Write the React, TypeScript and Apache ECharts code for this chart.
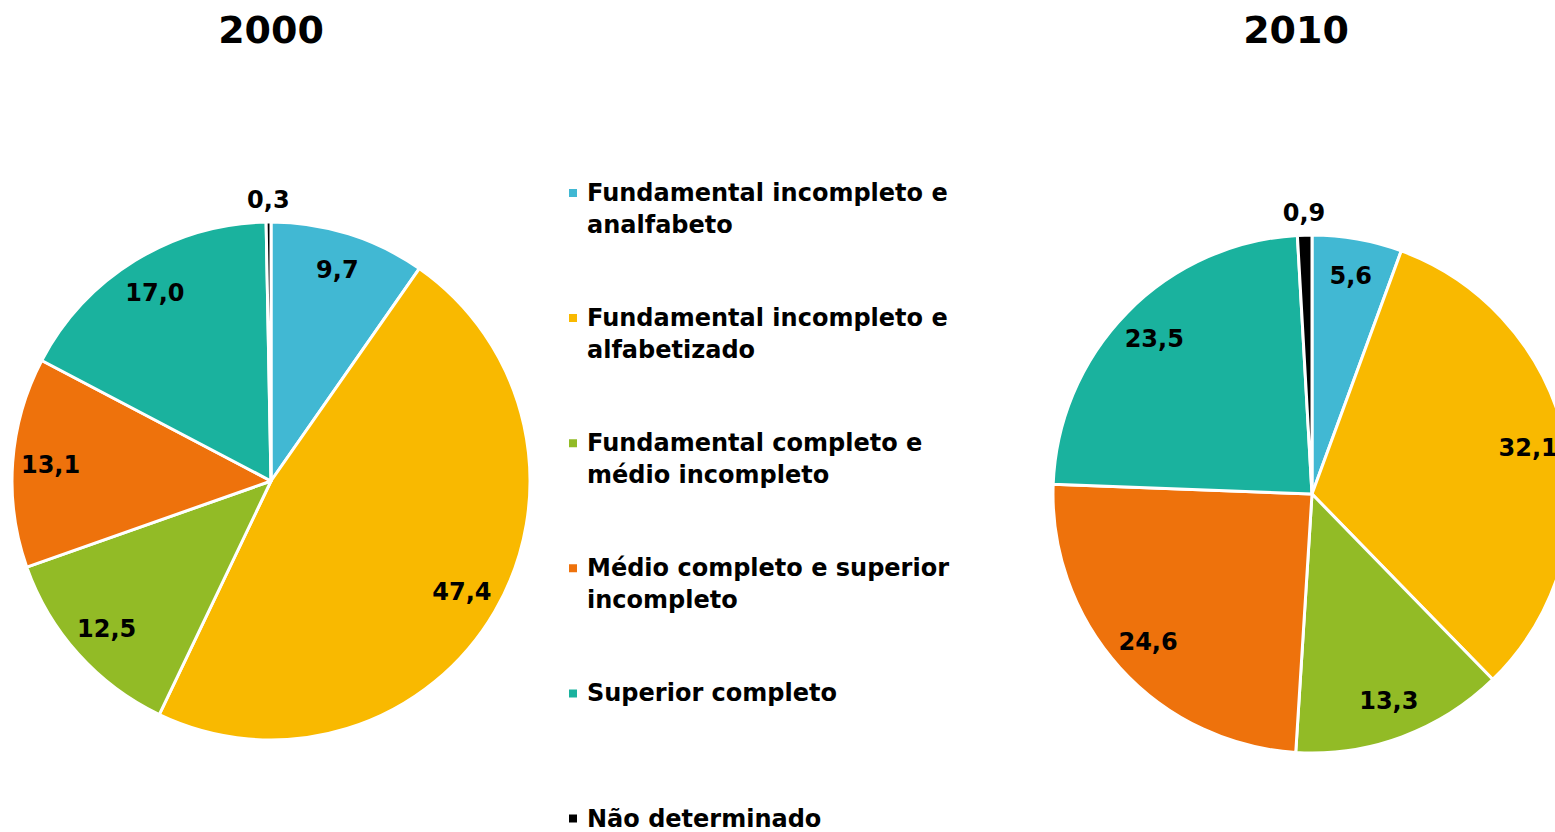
import React, { useEffect, useRef } from "react";
import * as echarts from "echarts";

const categories = [
  "Fundamental incompleto e analfabeto",
  "Fundamental incompleto e alfabetizado",
  "Fundamental completo e médio incompleto",
  "Médio completo e superior incompleto",
  "Superior completo",
  "Não determinado",
];
const legendLines = [
  "Fundamental incompleto e\nanalfabeto",
  "Fundamental incompleto e\nalfabetizado",
  "Fundamental completo e\nmédio incompleto",
  "Médio completo e superior\nincompleto",
  "Superior completo\n ",
  "Não determinado\n ",
];
const colors = ["#41B8D3", "#F9B900", "#92BB26", "#EE720C", "#1AB29E", "#000000"];
const values2000 = [9.7, 47.4, 12.5, 13.1, 17.0, 0.3];
const values2010 = [5.6, 32.1, 13.3, 24.6, 23.5, 0.9];
const years = ["2000", "2010"];

const FONT = "DejaVu Sans, Verdana, sans-serif";
const fmt = (v: number) => v.toFixed(1).replace(".", ",");

export default function App() {
  const ref = useRef<HTMLDivElement>(null);
  useEffect(() => {
    if (!ref.current) return;
    const chart = echarts.init(ref.current, undefined, { renderer: "svg" });
    const pies = [
      { values: values2000, center: [271, 481] },
      { values: values2010, center: [1312, 494] },
    ];
    const labelStyle = {
      color: "#000",
      fontFamily: FONT,
      fontWeight: "bold",
      fontSize: 24,
    };
    const series: any[] = [];
    pies.forEach((p, pi) => {
      series.push({
        type: "pie",
        name: years[pi],
        center: p.center,
        radius: 259,
        startAngle: 90,
        clockwise: true,
        silent: true,
        label: { show: false },
        labelLine: { show: false },
        itemStyle: { borderColor: "#fff", borderWidth: 3 },
        data: categories.map((c, i) => ({
          name: c,
          value: p.values[i],
          itemStyle: { color: colors[i] },
        })),
      });
    });
    pies.forEach((p, pi) => {
      series.push({
        type: "pie",
        name: years[pi] + " labels",
        center: p.center,
        radius: [178, 258],
        startAngle: 90,
        silent: true,
        itemStyle: { color: "transparent", borderWidth: 0 },
        labelLine: { show: false },
        data: categories.map((c, i) => ({
          name: c,
          value: p.values[i],
          label: {
            show: p.values[i] >= 2,
            position: "inside",
            formatter: fmt(p.values[i]),
            ...labelStyle,
          },
        })),
      });
      series.push({
        type: "pie",
        name: years[pi] + " small",
        center: p.center,
        radius: [258, 298],
        startAngle: 90,
        silent: true,
        itemStyle: { color: "transparent", borderWidth: 0 },
        labelLine: { show: false },
        data: categories.map((c, i) => ({
          name: c,
          value: p.values[i],
          label: {
            show: p.values[i] < 2,
            position: "inside",
            formatter: fmt(p.values[i]),
            ...labelStyle,
          },
        })),
      });
    });
    chart.setOption({
      animation: false,
      backgroundColor: "#fff",
      title: years.map((y, i) => ({
        text: y,
        left: i === 0 ? 271 : 1296,
        top: 11,
        padding: 0,
        textAlign: "center",
        textStyle: { fontFamily: FONT, fontWeight: "bold", fontSize: 38, color: "#000" },
      })),
      legend: {
        orient: "vertical",
        left: 567,
        top: 176,
        height: 900,
        padding: 0,
        itemGap: 59.1,
        itemWidth: 14,
        itemHeight: 64,
        icon: "path://M0,11h10v10h-10z M0,0h0.01v0.01h-0.01z M13.99,63.99h0.01v0.01h-0.01z",
        selectedMode: false,
        data: categories,
        formatter: (name: string) => legendLines[categories.indexOf(name)],
        textStyle: {
          fontFamily: FONT,
          fontWeight: "bold",
          fontSize: 24,
          lineHeight: 32,
          color: "#000",
        },
      },
      series,
    });
    return () => chart.dispose();
  }, []);
  return (
    <div
      ref={ref}
      style={{ position: "absolute", left: 0, top: 0, width: 1555, height: 832 }}
    />
  );
}
